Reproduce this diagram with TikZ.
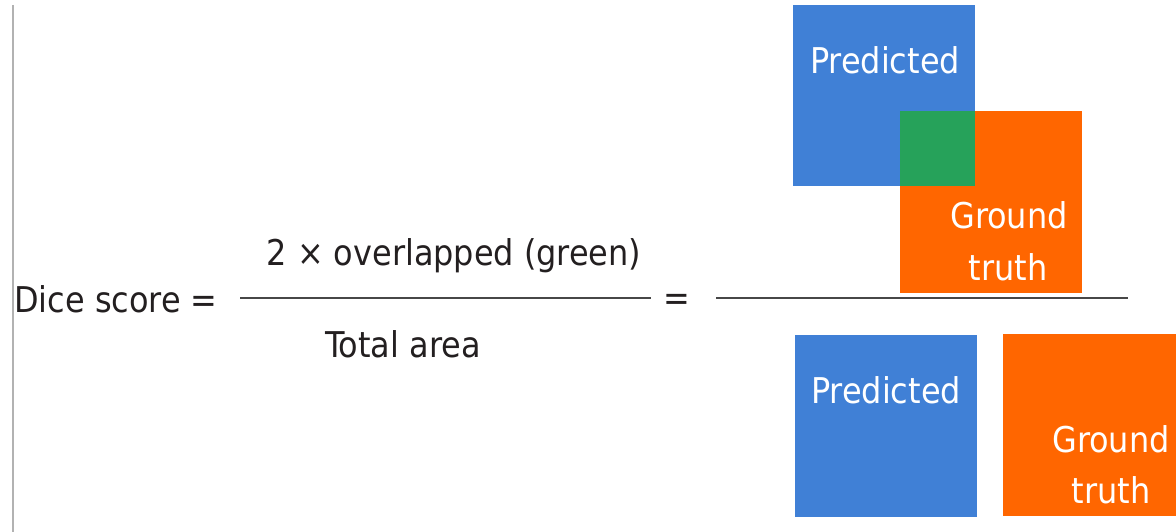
\documentclass[tikz,border=0pt]{standalone}
\usepackage{fontspec}
\setmainfont{DejaVu Sans Condensed}
\definecolor{pblue}{RGB}{64,128,214}
\definecolor{porange}{RGB}{255,102,0}
\definecolor{pgreen}{RGB}{38,162,90}
\definecolor{ink}{RGB}{35,31,32}
\begin{document}
\begin{tikzpicture}[x=1pt,y=-1pt,
  box/.style={draw=none,inner sep=0pt,outer sep=0pt,anchor=north west},
  lbl/.style={font=\fontsize{35.5}{42}\selectfont,anchor=base,inner sep=0pt,text=white},
  eqtext/.style={font=\fontsize{35.5}{42}\selectfont,anchor=base,inner sep=0pt,text=ink},
  fracline/.style={draw=black!72,line width=1.8pt},
  edge/.style={draw=black!30,line width=1.2pt}]
\useasboundingbox (0,0) rectangle (1176,532);
\draw[edge] (13,5) -- (13,532);
% top overlapping squares
\node[box,fill=pblue,minimum width=182pt,minimum height=181pt] (p1) at (793,5) {};
\node[box,fill=porange,minimum width=182pt,minimum height=182pt] (g1) at (900,111) {};
\node[box,fill=pgreen,minimum width=75pt,minimum height=75pt] (ov) at (900,111) {};
% bottom squares
\node[box,fill=pblue,minimum width=182pt,minimum height=182pt] (p2) at (795,335) {};
\node[box,fill=porange,minimum width=173pt,minimum height=182pt] (g2) at (1003,334) {};
% labels
\node[lbl] (tp1) at (885,74) {Predicted};
\node[lbl] (tg1) at (1009,228) {Ground};
\node[lbl] (tt1) at (1008,280) {truth};
\node[lbl] (tp2) at (886,403) {Predicted};
\node[lbl] (tg2) at (1111,452) {Ground};
\node[lbl] (tt2) at (1111,503) {truth};
% equation
\node[eqtext,anchor=base west] (dice) at (14,312) {Dice score =};
\node[eqtext] (num) at (454,265) {2 × overlapped (green)};
\node[eqtext] (den) at (403,357) {Total area};
\node[eqtext] (eqs) at (677,310) {=};
\coordinate (fa) at (240,298);
\coordinate (fb) at (651,298);
\coordinate (fc) at (716,298);
\coordinate (fd) at (1128,298);
\draw[fracline] (fa) -- (fb);
\draw[fracline] (fc) -- (fd);
\end{tikzpicture}
\end{document}
